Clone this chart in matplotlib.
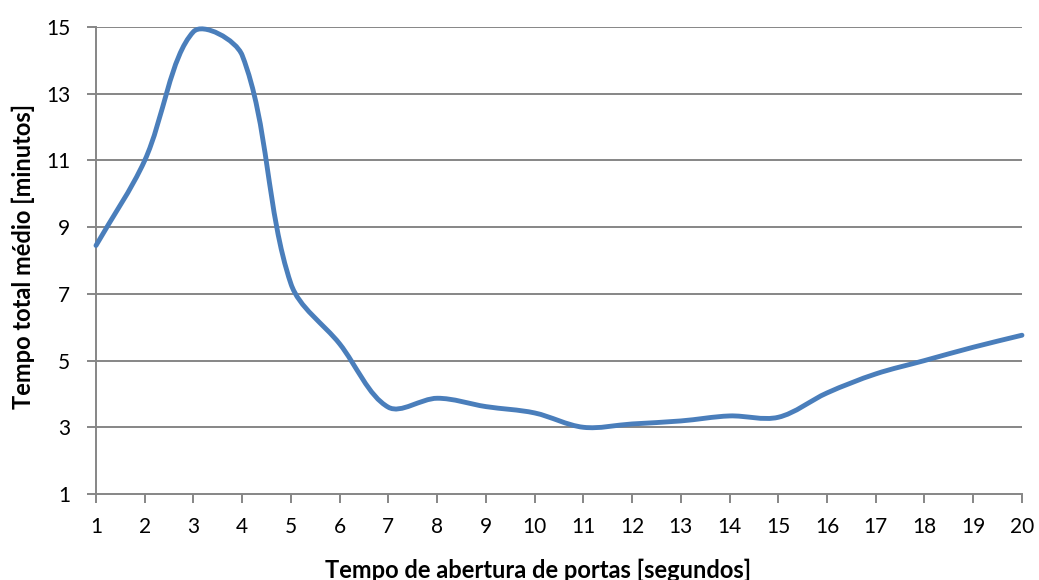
import numpy as np
import matplotlib
matplotlib.use("Agg")
from matplotlib import pyplot as plt
from matplotlib.path import Path
from matplotlib.patches import PathPatch

# door opening time [s] vs mean total time [min]
abertura = [1, 2, 3, 4, 5, 6, 7, 8, 9, 10, 11, 12, 13, 14, 15, 16, 17, 18, 19, 20]
tempo_medio = [8.45, 11.0, 14.86, 14.15, 7.3, 5.5, 3.6, 3.87, 3.62, 3.43, 3.0, 3.1,
               3.19, 3.34, 3.3, 4.03, 4.6, 5.0, 5.4, 5.76]
yticks = [1, 3, 5, 7, 9, 11, 13, 15]

plt.rcParams['font.family'] = ['Lato', 'DejaVu Sans']


def smooth_path(ax, xs, ys):
    # excel-like smoothed line, control points weighted by chord length on screen
    pts = ax.transData.transform(np.column_stack([xs, ys]).astype(float))
    n = len(pts)
    verts = [pts[0]]
    codes = [Path.MOVETO]
    for i in range(n - 1):
        p0 = pts[i - 1] if i > 0 else pts[i]
        p1 = pts[i]
        p2 = pts[i + 1]
        p3 = pts[i + 2] if i + 2 < n else pts[i + 1]
        d01 = np.hypot(*(p1 - p0))
        d12 = np.hypot(*(p2 - p1))
        d23 = np.hypot(*(p3 - p2))
        c1 = p1 + (p2 - p0) * d12 / (d01 + d12) / 3.0
        c2 = p2 - (p3 - p1) * d12 / (d12 + d23) / 3.0
        verts += [c1, c2, p2]
        codes += [Path.CURVE4] * 3
    verts = ax.transData.inverted().transform(np.array(verts))
    return Path(verts, codes)


fig = plt.figure(figsize=(10.39, 5.80), dpi=100)
ax = fig.add_axes([0.0924, 0.1483, 0.8912, 0.8051])
ax.set_xlim(1, 20)
ax.set_ylim(1, 15)

grid_c = '#868686'
for yv in yticks[1:]:
    ax.axhline(yv, color=grid_c, lw=1.4, zorder=1)

ax.add_patch(PathPatch(smooth_path(ax, abertura, tempo_medio), fill=False,
                       edgecolor='#4a7ebb', lw=3.5, capstyle='round',
                       joinstyle='round', zorder=3, clip_on=False))

ax.set_xticks(abertura)
ax.set_yticks(yticks)

for s in ['top', 'right']:
    ax.spines[s].set_visible(False)
for s in ['left', 'bottom']:
    ax.spines[s].set_color(grid_c)
    ax.spines[s].set_linewidth(1.4)
ax.tick_params(axis='both', colors=grid_c, length=6.5, width=1.4,
               labelsize=15, labelcolor='black')
ax.tick_params(axis='y', pad=12)
ax.tick_params(axis='x', pad=10)

ax.set_xlabel('Tempo de abertura de portas [segundos]', fontsize=17,
              fontweight='bold')
ax.xaxis.label.set_va('baseline')
ax.xaxis.set_label_coords(0.477, -0.18)
ax.set_ylabel('Tempo total médio [minutos]', fontsize=17, fontweight='bold')
ax.yaxis.set_label_coords(-0.066, 0.508)

plt.savefig('out.png', dpi=100)
